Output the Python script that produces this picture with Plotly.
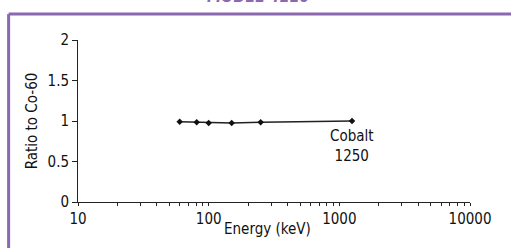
import plotly.graph_objects as go

energy_kev = [60, 81, 100, 150, 250, 1250]
ratio = [0.99, 0.985, 0.975, 0.975, 0.985, 1.0]
y_ticks = [0, 0.5, 1, 1.5, 2]
y_tick_labels = ["0", "0.5", "1", "1.5", "2"]
x_ticks = [10, 100, 1000, 10000]
x_tick_labels = ["10", "100", "1000", "10000"]
x_minor_ticks = [m * d for d in (10, 100, 1000) for m in range(2, 10)]

FONT = "DejaVu Sans Condensed, Liberation Sans Narrow, sans-serif"
PURPLE = "#8c68b0"

fig = go.Figure()
fig.add_trace(go.Scatter(
    x=energy_kev, y=ratio, mode="lines+markers",
    line=dict(color="#222222", width=1.5),
    marker=dict(symbol="diamond", size=5, color="#111111"),
    showlegend=False,
))

fig.update_layout(
    width=511, height=248,
    margin=dict(l=78, r=41, t=40, b=46, autoexpand=False),
    paper_bgcolor="white", plot_bgcolor="white",
    font=dict(family=FONT, size=15, color="#111111"),
    xaxis=dict(
        type="log", range=[1, 4], automargin=False,
        tickvals=x_ticks, ticktext=x_tick_labels,
        ticks="outside", ticklen=3, tickcolor="#222", tickwidth=1,
        minor=dict(tickvals=x_minor_ticks, ticks="outside", ticklen=3,
                   tickcolor="#222", showgrid=False),
        showline=True, linecolor="#222", linewidth=1,
        showgrid=False, zeroline=False,
        tickfont=dict(size=15),
    ),
    yaxis=dict(
        range=[0, 2], automargin=False,
        tickvals=y_ticks, ticktext=y_tick_labels,
        ticks="outside", ticklen=5, tickcolor="#222", tickwidth=1,
        showline=True, linecolor="#222", linewidth=1,
        showgrid=False, zeroline=False,
        tickfont=dict(size=15),
        title=dict(text="Ratio to Co-60", font=dict(size=15), standoff=6),
    ),
    shapes=[
        dict(type="line", xref="paper", yref="paper", x0=-0.177, x1=1.2, y0=1.16, y1=1.16,
             line=dict(color=PURPLE, width=3)),
        dict(type="line", xref="paper", yref="paper", x0=-0.177, x1=-0.177, y0=1.16, y1=-0.4,
             line=dict(color=PURPLE, width=3)),
    ],
    annotations=[
        dict(text="Energy (keV)", xref="x", yref="paper", x=2.45, y=-0.1,
             xanchor="center", yanchor="top", showarrow=False, font=dict(size=15)),
        dict(text="Cobalt<br>1250", xref="x", yref="y", x=3.097, y=0.955,
             xanchor="center", yanchor="top", showarrow=False, font=dict(size=15)),
        dict(text="<b><i>MODEL 4110</i></b>", xref="paper", yref="paper", x=0.46, y=1.2,
             xanchor="center", yanchor="bottom", showarrow=False,
             font=dict(size=16, color=PURPLE)),
    ],
)

fig.write_html("out.html", config={"displayModeBar": False},
               post_script="document.body.style.margin='0';")
